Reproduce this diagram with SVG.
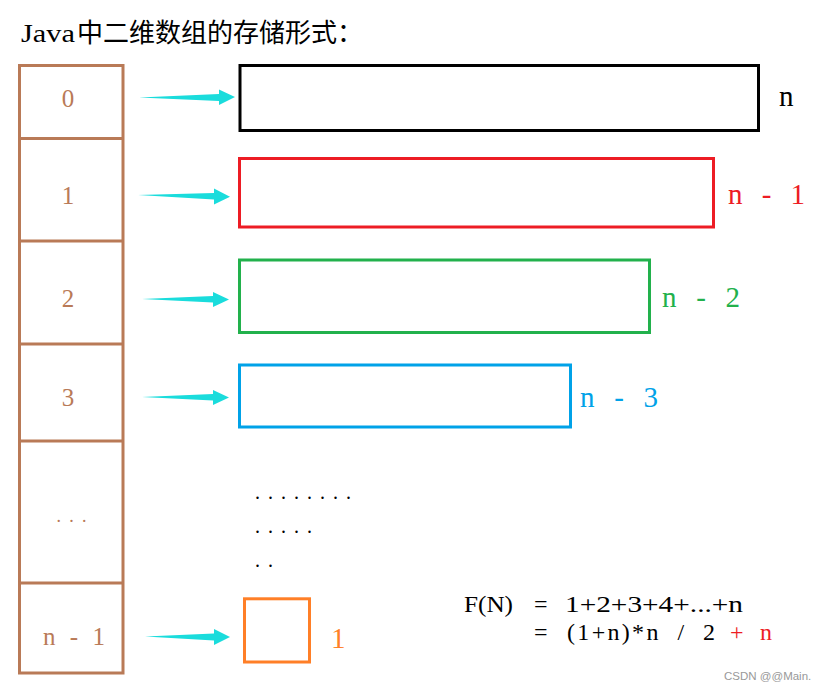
<svg xmlns="http://www.w3.org/2000/svg" width="821" height="691" viewBox="0 0 821 691">
<style>
.bg{fill:#ffffff}
.cell{fill:none;stroke:#B97A57;stroke-width:3}
.idx{font-family:"Liberation Serif",serif;font-size:25px;fill:#B97A57}
.row{fill:none;stroke-width:3}
.lbl{font-family:"Liberation Serif",serif;font-size:29px}
.arrow{fill:#1ADCDC}
.f{font-family:"Liberation Serif",serif;font-size:24px}
.dots{font-family:"Liberation Serif",serif;font-size:20px;fill:#000;letter-spacing:8px}
</style>
<rect class="bg" x="0" y="0" width="821" height="691"/>
<text x="21" y="42" font-size="26" fill="#000"><tspan font-family="Liberation Serif, serif" textLength="54" lengthAdjust="spacingAndGlyphs">Java</tspan><tspan x="77" font-family="Noto Sans CJK SC, sans-serif" textLength="286" lengthAdjust="spacingAndGlyphs">中二维数组的存储形式：</tspan></text>

<g id="array">
<rect class="cell" x="19.5" y="65.5" width="103.5" height="607.5"/>
<line class="cell" x1="19.5" y1="138.5" x2="123" y2="138.5"/>
<line class="cell" x1="19.5" y1="241" x2="123" y2="241"/>
<line class="cell" x1="19.5" y1="344" x2="123" y2="344"/>
<line class="cell" x1="19.5" y1="441" x2="123" y2="441"/>
<line class="cell" x1="19.5" y1="583" x2="123" y2="583"/>
<text class="idx" x="68" y="107" text-anchor="middle">0</text>
<text class="idx" x="68" y="204" text-anchor="middle">1</text>
<text class="idx" x="68" y="307" text-anchor="middle">2</text>
<text class="idx" x="68" y="406" text-anchor="middle">3</text>
<text class="idx" x="56.5" y="521.5" style="font-size:18px;letter-spacing:8.2px">...</text>
<text class="idx" x="43" y="645" textLength="62" lengthAdjust="spacing" xml:space="preserve">n - 1</text>
</g>

<g id="row0">
<rect class="row" stroke="#000" x="240" y="65.5" width="518.5" height="65"/>
<text class="lbl" x="779" y="106" fill="#000">n</text>
</g>
<g id="row1">
<rect class="row" stroke="#ED1C24" x="239.5" y="158.5" width="474" height="68.5"/>
<text class="lbl" x="728" y="204" fill="#ED1C24" textLength="77" lengthAdjust="spacing" xml:space="preserve">n - 1</text>
</g>
<g id="row2">
<rect class="row" stroke="#22B14C" x="239.5" y="260" width="410" height="72.5"/>
<text class="lbl" x="662" y="307" fill="#22B14C" textLength="78" lengthAdjust="spacing" xml:space="preserve">n - 2</text>
</g>
<g id="row3">
<rect class="row" stroke="#00A2E8" x="239.5" y="365" width="331" height="62"/>
<text class="lbl" x="580" y="406.5" fill="#00A2E8" textLength="78" lengthAdjust="spacing" xml:space="preserve">n - 3</text>
</g>
<g id="rowlast">
<rect class="row" stroke="#FF7F27" x="244.5" y="598.8" width="65" height="63.2"/>
<text class="lbl" x="331" y="648" fill="#FF7F27">1</text>
</g>

<g id="ellipsis">
<text class="dots" x="255" y="498.8">........</text>
<text class="dots" x="255" y="532.8">.....</text>
<text class="dots" x="255" y="566.8">..</text>
</g>

<g id="connectors">
<polygon class="arrow" points="139,97.5 219,94 219,89.5 235,97 219,105 219,101"/>
<polygon class="arrow" points="138,195 214,193 214,188.5 230,196.8 214,204.5 214,199.5"/>
<polygon class="arrow" points="142,299 213,296 213,292 229,299.5 213,307 213,302.5"/>
<polygon class="arrow" points="142,397 213,394 213,390 229,397.5 213,405 213,400.5"/>
<polygon class="arrow" points="145,636.5 214,633.5 214,629 230,637 214,645 214,640.5"/>
</g>

<g id="formula">
<text class="f" x="464" y="612" fill="#000" textLength="49" lengthAdjust="spacingAndGlyphs">F(N)</text>
<text class="f" x="534" y="612" fill="#000">=</text>
<text class="f" x="565" y="612" fill="#000" textLength="178" lengthAdjust="spacingAndGlyphs">1+2+3+4+...+n</text>
<text class="f" x="534" y="640" fill="#000">=</text>
<text class="f" x="567" y="640" fill="#000" textLength="148" lengthAdjust="spacing" xml:space="preserve">(1+n)*n  /  2</text>
<text class="f" x="730" y="640" fill="#ED1C24" textLength="42" lengthAdjust="spacing" xml:space="preserve">+ n</text>
</g>

<text x="724" y="680" font-family="Liberation Sans, sans-serif" font-size="11.5" fill="#999999">CSDN @@Main.</text>
</svg>
